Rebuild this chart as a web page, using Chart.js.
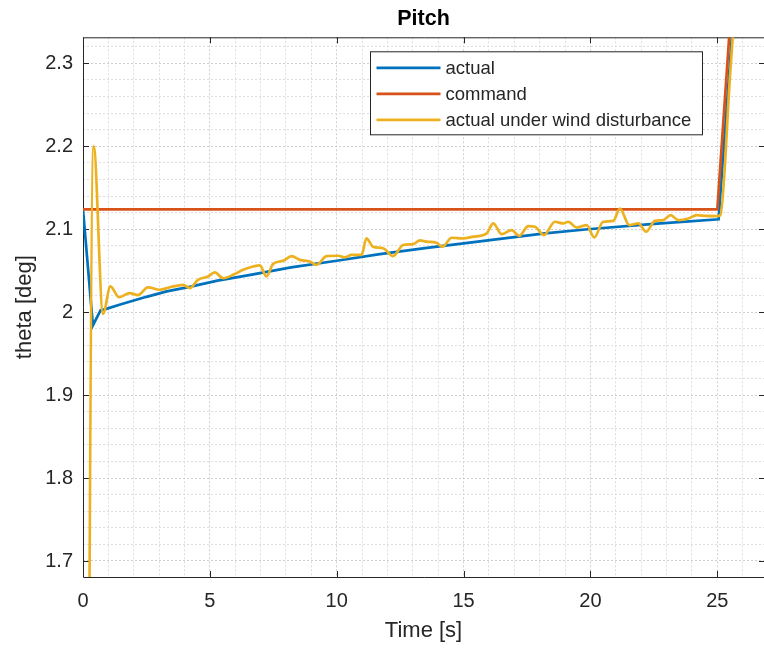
<!DOCTYPE html>
<html>
<head>
<meta charset="utf-8">
<script src="https://cdn.jsdelivr.net/npm/chart.js@4/dist/chart.umd.min.js"></script>
<style>
  html, body { margin: 0; padding: 0; background: #fff; }
  canvas { display: block; }
</style>
</head>
<body>
<canvas id="pitchChart" width="764" height="648"></canvas>
<script>
// values
const timeActual  = [0, 0.39, 0.69, 0.92, 1.5, 2.5, 3.3, 4.2, 5.3, 6.6, 8.2, 10.0, 11.7, 13.4, 15.0, 16.6, 18.2, 19.9, 22.5, 25.05, 25.9];
const thetaActual = [2.124, 1.984, 2.002, 2.004, 2.0095, 2.0185, 2.025, 2.0305, 2.038, 2.045, 2.054, 2.062, 2.070, 2.077, 2.083, 2.089, 2.095, 2.100, 2.1065, 2.112, 2.47];

const timeCommand  = [0, 25.0, 25.8];
const thetaCommand = [2.124, 2.124, 2.48];

const timeWind = [0, 0.42, 0.79, 1.08, 1.42, 1.84, 2.17, 2.56, 3.02, 3.42, 3.94, 4.21, 4.53, 4.93, 5.19, 5.52, 5.98, 6.31, 6.7,
  6.97, 7.23, 7.49, 7.89, 8.22, 8.55, 8.94, 9.2, 9.6, 10.05, 10.32, 10.58, 10.98, 11.17, 11.43, 11.83, 12.22, 12.62, 13.01,
  13.28, 13.54, 13.93, 14.17, 14.53, 14.98, 15.38, 15.91, 16.17, 16.5, 16.89, 17.19, 17.55, 17.81, 18.17, 18.6, 18.93, 19.12,
  19.46, 19.85, 20.15, 20.5, 20.9, 21.16, 21.53, 21.89, 22.19, 22.54, 22.87, 23.16, 23.46, 23.86, 24.19, 24.58, 24.98, 25.12,
  25.5, 25.9];
const thetaWind = [0.0, 2.200, 1.998, 2.031, 2.018, 2.023, 2.0205, 2.030, 2.027, 2.030, 2.033, 2.029, 2.039, 2.043, 2.048, 2.041, 2.046, 2.051, 2.055,
  2.0565, 2.043, 2.058, 2.062, 2.0675, 2.063, 2.061, 2.057, 2.0675, 2.068, 2.066, 2.069, 2.069, 2.089, 2.079, 2.077, 2.0675, 2.081, 2.082,
  2.0865, 2.085, 2.0836, 2.079, 2.0897, 2.089, 2.091, 2.095, 2.107, 2.094, 2.099, 2.092, 2.1037, 2.103, 2.093, 2.109, 2.107, 2.109,
  2.102, 2.105, 2.090, 2.109, 2.110, 2.125, 2.105, 2.107, 2.097, 2.110, 2.111, 2.117, 2.111, 2.113, 2.117, 2.116, 2.1158, 2.117,
  2.285, 2.46];

const seriesLabels = ['actual', 'command', 'actual under wind disturbance'];
const seriesColors = ['#0072BD', '#D95319', '#EDB120'];

const xMajorTicks = [0, 5, 10, 15, 20, 25];
const yMajorTicks = [1.7, 1.8, 1.9, 2.0, 2.1, 2.2, 2.3];
const xMinorStep = 1;
const yMinorStep = 0.02;
const xRange = [0, 26.84];
const yRange = [1.6807, 2.3314];

const FONT = "'Liberation Sans', Arial, Helvetica, sans-serif";
const TEXT = '#262626';

const toPoints = (xs, ys) => xs.map((t, i) => ({ x: t, y: ys[i] }));

function minorValues(range, step) {
  const out = [];
  for (let k = Math.ceil(range[0] / step - 1e-9); k * step <= range[1] + 1e-9; k++) {
    out.push(Math.round(k * step * 1000) / 1000);
  }
  return out;
}
const isIn = (list, v) => list.some(m => Math.abs(m - v) < 1e-6);

const axesBox = {
  id: 'axesBox',
  beforeDatasetsDraw(chart) {
    const { ctx, chartArea: a, scales: { x, y } } = chart;
    ctx.save();
    ctx.strokeStyle = TEXT;
    ctx.lineWidth = 1;
    ctx.beginPath();
    ctx.moveTo(a.right + 1, a.top + 0.5);
    ctx.lineTo(a.left + 0.5, a.top + 0.5);
    ctx.lineTo(a.left + 0.5, a.bottom + 0.5);
    ctx.lineTo(a.right + 1, a.bottom + 0.5);
    xMajorTicks.forEach(v => {
      const px = Math.round(x.getPixelForValue(v)) + 0.5;
      ctx.moveTo(px, a.bottom); ctx.lineTo(px, a.bottom - 6);
      ctx.moveTo(px, a.top); ctx.lineTo(px, a.top + 6);
    });
    yMajorTicks.forEach(v => {
      const py = Math.round(y.getPixelForValue(v)) + 0.5;
      ctx.moveTo(a.left, py); ctx.lineTo(a.left + 6, py);
      ctx.moveTo(a.right, py); ctx.lineTo(a.right - 5, py);
    });
    ctx.stroke();
    ctx.restore();
  }
};

const boxLegend = {
  id: 'boxLegend',
  afterDatasetsDraw(chart) {
    const { ctx, chartArea: a } = chart;
    const left = a.left + 287.5, top = a.top + 14.5, w = 332, h = 83;
    ctx.save();
    ctx.fillStyle = '#fff';
    ctx.fillRect(left, top, w, h);
    ctx.strokeStyle = TEXT;
    ctx.lineWidth = 1;
    ctx.strokeRect(left, top, w, h);
    ctx.font = '18.5px ' + FONT;
    ctx.textBaseline = 'middle';
    ctx.fillStyle = TEXT;
    chart.data.datasets.forEach((ds, i) => {
      const ry = top + 16 + i * 26;
      ctx.strokeStyle = ds.borderColor;
      ctx.lineWidth = 2.7;
      ctx.beginPath();
      ctx.moveTo(left + 6, ry);
      ctx.lineTo(left + 70, ry);
      ctx.stroke();
      ctx.fillText(ds.label, left + 75, ry + 1);
    });
    ctx.restore();
  }
};

new Chart(document.getElementById('pitchChart'), {
  type: 'line',
  data: {
    datasets: [
      { label: seriesLabels[0], data: toPoints(timeActual, thetaActual), borderColor: seriesColors[0], order: 2 },
      { label: seriesLabels[1], data: toPoints(timeCommand, thetaCommand), borderColor: seriesColors[1], order: 1 },
      { label: seriesLabels[2], data: toPoints(timeWind, thetaWind), borderColor: seriesColors[2], order: 0,
        cubicInterpolationMode: 'monotone' }
    ]
  },
  options: {
    responsive: false,
    animation: false,
    layout: { padding: 0 },
    elements: {
      point: { radius: 0 },
      line: { borderWidth: 2.7, fill: false, tension: 0 }
    },
    plugins: {
      legend: { display: false },
      tooltip: { enabled: false },
      title: {
        display: true,
        text: 'Pitch',
        fullSize: false,
        color: '#000',
        font: { family: FONT, size: 21.5, weight: 'bold', lineHeight: 1.2 },
        padding: { top: 6.5, bottom: 5 }
      }
    },
    scales: {
      x: {
        type: 'linear',
        min: xRange[0],
        max: xRange[1],
        afterBuildTicks: s => { s.ticks = minorValues(xRange, xMinorStep).map(v => ({ value: v })); },
        afterFit: s => { s.height = 71; },
        border: { display: false, dash: [2, 2] },
        grid: {
          drawTicks: false,
          borderDash: [2, 2],
          lineWidth: 1,
          color: c => isIn(xMajorTicks, c.tick.value) ? '#cfcfcf' : '#dedede'
        },
        ticks: {
          autoSkip: false,
          maxRotation: 0,
          padding: 12,
          color: TEXT,
          font: { family: FONT, size: 20 },
          callback: v => isIn(xMajorTicks, v) ? String(Math.round(v)) : ''
        },
        title: {
          display: true,
          text: 'Time [s]',
          color: TEXT,
          font: { family: FONT, size: 22, lineHeight: 1.2 },
          padding: { top: 0, bottom: 4 }
        }
      },
      y: {
        type: 'linear',
        min: yRange[0],
        max: yRange[1],
        afterBuildTicks: s => { s.ticks = minorValues(yRange, yMinorStep).map(v => ({ value: v })); },
        afterFit: s => { s.width = 83; },
        border: { display: false, dash: [2, 2] },
        grid: {
          drawTicks: false,
          borderDash: [2, 2],
          lineWidth: 1,
          color: c => isIn(yMajorTicks, c.tick.value) ? '#cfcfcf' : '#dedede'
        },
        ticks: {
          autoSkip: false,
          padding: 10,
          color: TEXT,
          font: { family: FONT, size: 20 },
          callback: v => isIn(yMajorTicks, v) ? String(Math.round(v * 10) / 10) : ''
        },
        title: {
          display: true,
          text: 'theta [deg]',
          color: TEXT,
          font: { family: FONT, size: 22, lineHeight: 1.2 },
          padding: { top: 12, bottom: 0 }
        }
      }
    }
  },
  plugins: [axesBox, boxLegend]
});
</script>
</body>
</html>
